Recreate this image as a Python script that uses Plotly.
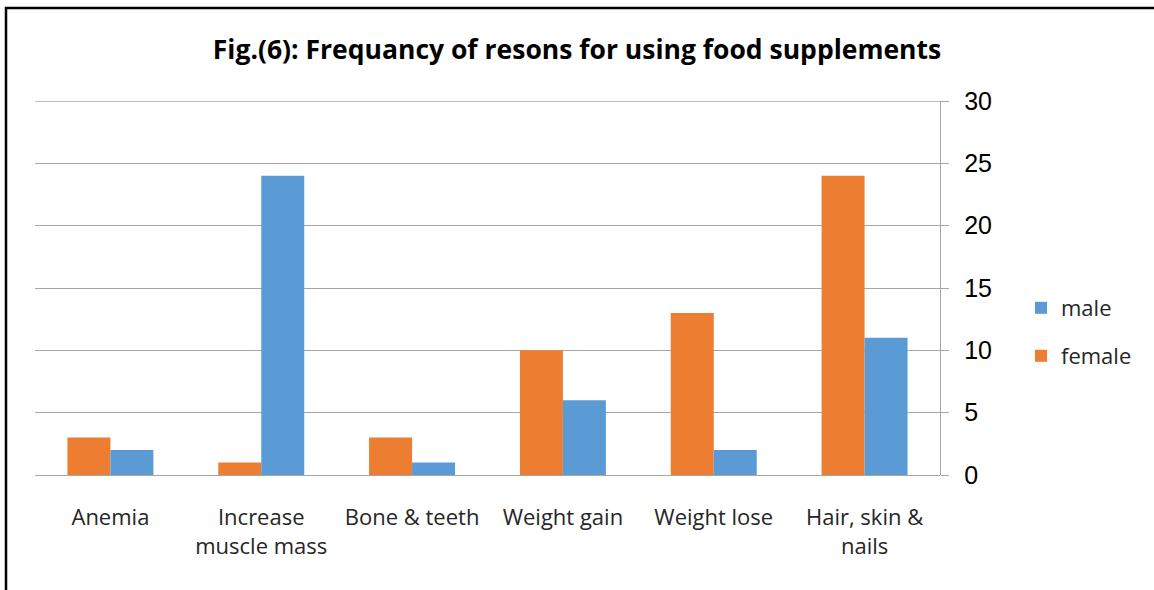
import plotly.graph_objects as go

categories = ["Anemia", "Increase<br>muscle mass", "Bone & teeth", "Weight gain", "Weight lose", "Hair, skin &<br>nails"]
female = [3, 1, 3, 10, 13, 24]
male = [2, 24, 1, 6, 2, 11]
y_ticks = [0, 5, 10, 15, 20, 25, 30]
title_text = "Fig.(6): Frequancy of resons for using food supplements"

W, H = 1154, 590
L, R, T, B = 35, 940, 101, 475
GRID = "#A6A6A6"

def px(x):
    return (x - L) / (R - L)

def py(y):
    return (B - y) / (B - T)

fig = go.Figure()
fig.add_trace(go.Bar(x=categories, y=female, name="female", marker_color="#ED7D31",
                     marker_line_width=0, legend="legend2", showlegend=True))
fig.add_trace(go.Bar(x=categories, y=male, name="male", marker_color="#5B9BD5",
                     marker_line_width=0, legend="legend", showlegend=True))

cat_font = dict(family="Open Sans, Lato, sans-serif", size=22, color="#262626")
leg_font = dict(family="Open Sans, Lato, sans-serif", size=22, color="#262626")

fig.update_layout(
    width=W, height=H, showlegend=True,
    margin=dict(l=L, r=W - R, t=T, b=H - B, autoexpand=False),
    paper_bgcolor="white", plot_bgcolor="white",
    barmode="group", bargap=0.43, bargroupgap=0,
    title=dict(text="<b>" + title_text + "</b>", x=0.5, xanchor="center",
               y=1 - 50 / H, yanchor="middle",
               font=dict(family="Open Sans, Lato, sans-serif", size=26.5, color="#000000")),
    xaxis=dict(showgrid=False, showline=False, ticks="", tickfont=cat_font,
               ticklabelstandoff=27, tickangle=0),
    yaxis=dict(side="right", range=[0, 30], tickvals=y_ticks, showgrid=True,
               gridcolor=GRID, gridwidth=1.3, showline=True, linecolor=GRID,
               linewidth=1.3, ticks="outside", ticklen=8, tickcolor=GRID,
               tickwidth=1.3, zeroline=True, zerolinecolor=GRID, zerolinewidth=1.3,
               tickfont=dict(family="Liberation Sans, Arial, sans-serif", size=25, color="#000000"),
               ticklabelstandoff=10),
    legend=dict(x=px(1021), y=py(308), xanchor="left", yanchor="middle",
                font=leg_font, bgcolor="rgba(0,0,0,0)"),
    legend2=dict(x=px(1021), y=py(356), xanchor="left", yanchor="middle",
                 font=leg_font, bgcolor="rgba(0,0,0,0)"),
    shapes=[
        dict(type="line", xref="paper", yref="y", x0=0, x1=1, y0=y_ticks[-1], y1=y_ticks[-1],
             line=dict(color=GRID, width=1.3), layer="below"),
        dict(type="line", xref="paper", yref="paper", x0=px(6), x1=px(6), y0=py(7), y1=py(600),
             line=dict(color="black", width=2.5)),
        dict(type="line", xref="paper", yref="paper", x0=px(5), x1=px(1160), y0=py(8), y1=py(8),
             line=dict(color="black", width=2.5)),
    ],
)

fig.write_html("out.html")
